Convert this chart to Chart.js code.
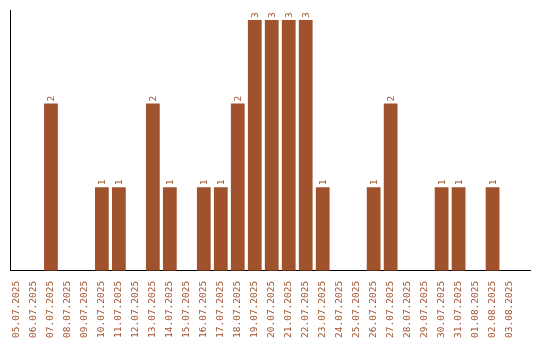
<!DOCTYPE html>
<html>
<head>
<meta charset="utf-8">
<script src="https://cdn.jsdelivr.net/npm/chart.js@4"></script>
<style>
    body { margin: 0; background: #fff; }
    #wrap { width: 540px; height: 340px; }
</style>
</head>
<body>
<div id="wrap"><canvas id="chart"></canvas></div>
<script>
const dates = ["05.07.2025", "06.07.2025", "07.07.2025", "08.07.2025", "09.07.2025", "10.07.2025",
    "11.07.2025", "12.07.2025", "13.07.2025", "14.07.2025", "15.07.2025", "16.07.2025",
    "17.07.2025", "18.07.2025", "19.07.2025", "20.07.2025", "21.07.2025", "22.07.2025",
    "23.07.2025", "24.07.2025", "25.07.2025", "26.07.2025", "27.07.2025", "28.07.2025",
    "29.07.2025", "30.07.2025", "31.07.2025", "01.08.2025", "02.08.2025", "03.08.2025"];
const counts = [0, 0, 2, 0, 0, 1, 1, 0, 2, 1, 0, 1, 1, 2, 3, 3, 3, 3, 1, 0, 0, 1, 2, 0, 0, 1, 1, 0, 1, 0];

const BROWN = "#a0522d";

// value labels, rotated like the date ticks
const barLabels = {
    id: "barLabels",
    afterDatasetsDraw(chart) {
        const ctx = chart.ctx;
        const meta = chart.getDatasetMeta(0);
        ctx.save();
        ctx.fillStyle = BROWN;
        ctx.font = "9.5px 'DejaVu Sans Mono'";
        ctx.textAlign = "left";
        ctx.textBaseline = "middle";
        meta.data.forEach((bar, i) => {
            if (!counts[i]) return;
            ctx.save();
            ctx.translate(bar.x + 0.5, bar.y - 2);
            ctx.rotate(-Math.PI / 2);
            ctx.fillText(String(counts[i]), 0, 0);
            ctx.restore();
        });
        ctx.restore();
    }
};

new Chart(document.getElementById("chart"), {
    type: "bar",
    data: {
        datasets: [{
            data: counts.map((c, i) => ({ x: i, y: c })),
            backgroundColor: BROWN,
            barPercentage: 0.9,
            categoryPercentage: 0.9,
        }]
    },
    options: {
        responsive: true,
        maintainAspectRatio: false,
        animation: false,
        layout: { padding: { left: 2, top: 10, right: 9, bottom: 0 } },
        plugins: { legend: { display: false }, tooltip: { enabled: false } },
        scales: {
            x: {
                type: "linear",
                offset: false,
                min: -0.41,
                max: 30.24,
                grid: { display: false },
                border: { color: "#000", width: 1 },
                ticks: {
                    stepSize: 1,
                    includeBounds: false,
                    callback: (v) => dates[v] || "",
                    color: BROWN,
                    font: { family: "DejaVu Sans Mono", size: 9.5 },
                    minRotation: 90,
                    maxRotation: 90,
                    autoSkip: false,
                    padding: 2,
                }
            },
            y: {
                min: 0,
                max: 3.12,
                grid: { display: false },
                border: { color: "#000", width: 1 },
                ticks: { display: false }
            }
        }
    },
    plugins: [barLabels]
});
</script>
</body>
</html>
